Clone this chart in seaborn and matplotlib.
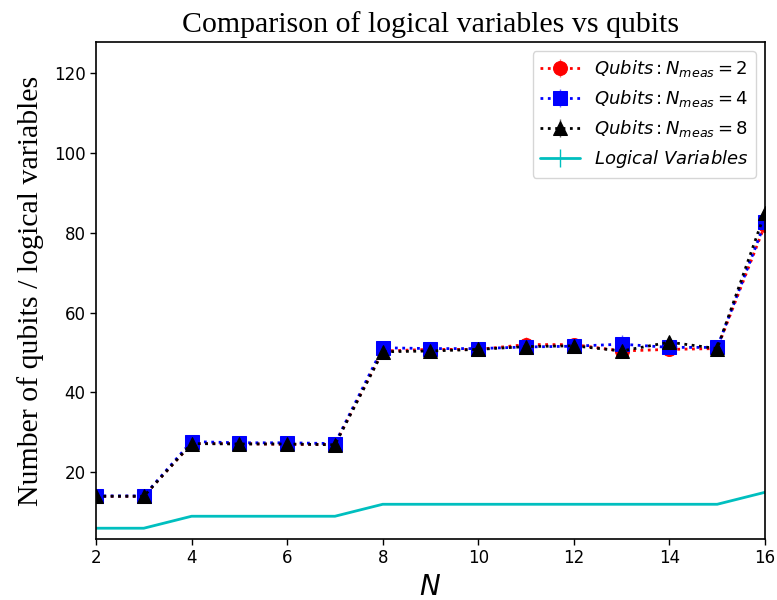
import numpy as np
import pandas as pd
import matplotlib
matplotlib.use("Agg")
import matplotlib.pyplot as plt
import seaborn as sns
from matplotlib.legend_handler import HandlerTuple

N = [2, 3, 4, 5, 6, 7, 8, 9, 10, 11, 12, 13, 14, 15, 16]
q_meas2 = [14.0, 14.0, 27.2, 27.2, 27.0, 27.0, 50.4, 50.8, 50.8, 52.0, 52.0, 50.4, 50.8, 51.0, 82.0]
q_meas4 = [14.1, 14.1, 27.7, 27.4, 27.4, 27.2, 51.2, 51.0, 51.0, 51.4, 51.6, 52.1, 51.3, 51.3, 82.6]
q_meas8 = [14.0, 14.0, 27.2, 27.1, 27.1, 26.9, 50.2, 50.4, 50.8, 51.5, 51.7, 50.4, 52.6, 51.0, 85.0]
err2 = [0.3, 0.3, 0.5, 0.4, 0.4, 0.4, 1.0, 0.8, 0.6, 2.0, 1.2, 1.0, 0.8, 0.6, 1.0]
err4 = [0.3, 0.3, 0.6, 0.4, 0.4, 0.4, 1.8, 0.8, 0.6, 1.0, 0.8, 2.2, 0.8, 0.6, 1.0]
err8 = [0.3, 0.3, 0.5, 0.4, 0.4, 0.4, 0.8, 0.6, 0.6, 0.8, 0.8, 0.8, 1.2, 0.6, 1.0]
logical = [6, 6, 9, 9, 9, 9, 12, 12, 12, 12, 12, 12, 12, 12, 15]

sns.set_style("ticks")
plt.rcParams['font.family'] = ['DejaVu Sans']
plt.rcParams['mathtext.fontset'] = 'dejavusans'
plt.rcParams['text.color'] = 'black'
plt.rcParams['axes.labelcolor'] = 'black'

fig = plt.figure(figsize=(7.77, 6.0), dpi=100)
ax = fig.add_axes([96/777, 1-539/600, (765-96)/777, (539-42)/600])

df = pd.DataFrame({"N": N, "m2": q_meas2, "m4": q_meas4, "m8": q_meas8, "lv": logical})

series = [("m2", err2, "red", "o", r"$Qubits: N_{meas}=2$"),
          ("m4", err4, "blue", "s", r"$Qubits: N_{meas}=4$"),
          ("m8", err8, "black", "^", r"$Qubits: N_{meas}=8$")]
handles, labels = [], []
for col, err, color, marker, lab in series:
    sns.lineplot(data=df, x="N", y=col, ax=ax, color=color, linestyle=":",
                 linewidth=2.0, marker=marker, markersize=10, markeredgecolor=color,
                 legend=False)
    line = ax.get_lines()[-1]
    eb = ax.errorbar(df["N"], df[col], yerr=err, fmt="none", ecolor=color,
                     elinewidth=1.0, alpha=0.6)
    handles.append((eb, line))
    labels.append(lab)

sns.lineplot(data=df, x="N", y="lv", ax=ax, color="c", linewidth=2, legend=False)
lvline = ax.get_lines()[-1]
eb = ax.errorbar(df["N"], df["lv"], yerr=np.zeros(len(N)), fmt="none", ecolor="c", elinewidth=1.0)
handles.append((eb, lvline))
labels.append(r"$Logical\ Variables$")

ax.set_xlim(2, 16)
ax.set_ylim(3.3, 127.8)
ax.set_xticks([2, 4, 6, 8, 10, 12, 14, 16])
ax.set_yticks([20, 40, 60, 80, 100, 120])
ax.tick_params(axis='both', labelsize=12, direction='out', length=4, width=1,
               colors='black', labelcolor='black')
for s in ax.spines.values():
    s.set_color('black')
    s.set_linewidth(1.2)

ax.set_xlabel(r"$N$", fontsize=20, color='black')
ax.set_ylabel("Number of qubits / logical variables", fontsize=21.5,
              family=["Liberation Serif"], labelpad=7, color='black')
ax.set_title("Comparison of logical variables vs qubits", fontsize=21.5,
             family=["Liberation Serif"], pad=7, color='black')

leg = ax.legend(handles, labels, loc="upper right", fontsize=13,
                handler_map={tuple: HandlerTuple(ndivide=1)}, handlelength=2.2,
                frameon=True, framealpha=0.8, edgecolor='#cccccc')
for t in leg.get_texts():
    t.set_color('black')

fig.savefig("out.png", dpi=100)
